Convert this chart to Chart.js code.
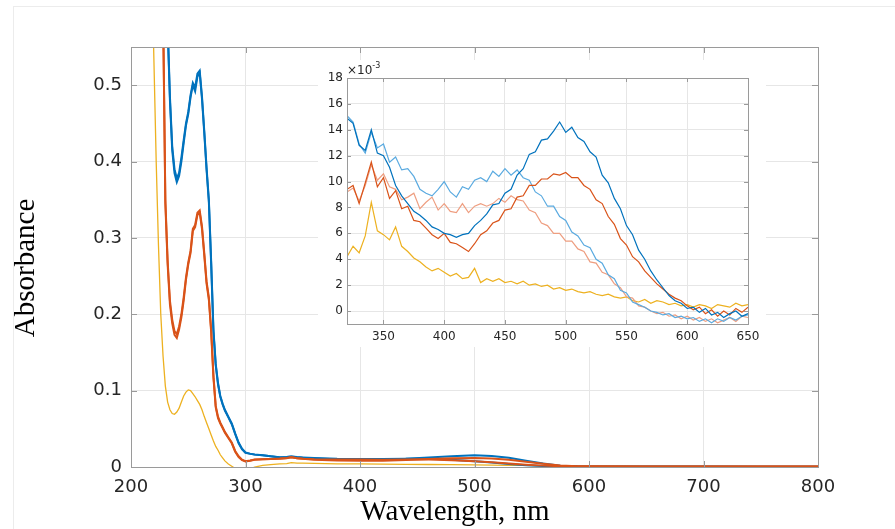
<!DOCTYPE html>
<html>
<head>
<meta charset="utf-8">
<script src="https://cdn.jsdelivr.net/npm/chart.js@4.4.1/dist/chart.umd.min.js"></script>
<style>
  html, body { margin: 0; padding: 0; background: #fff; }
  #wrap { position: relative; width: 895px; height: 529px; overflow: hidden; background: #fff; }
  #frame { position: absolute; left: 13px; top: 6px; right: -2px; bottom: -2px; border-left: 1px solid #ececec; border-top: 1px solid #ececec; }
  #main { position: absolute; left: 0; top: 0; }
  #insetBox { position: absolute; left: 318px; top: 60px; width: 448px; height: 287px; background: #fff; }
</style>
</head>
<body>
<div id="wrap">
  <div id="frame"></div>
  <canvas id="main" width="895" height="529"></canvas>
  <div id="insetBox"><canvas id="inset" width="448" height="287"></canvas></div>
</div>
<script>
// main spectrum, wavelength in nm
const mainWl = [215, 219, 222, 224, 226, 228, 230, 232, 234, 236,
  238, 240, 242, 244, 246, 248, 250, 252, 254, 256,
  258, 260, 262, 264, 266, 268, 270, 272, 274, 276,
  278, 280, 282, 285, 288, 291, 294, 297, 300, 304,
  308, 315, 322, 330, 336, 340, 345, 350, 360, 380,
  400, 420, 440, 460, 480, 500, 515, 530, 545, 560,
  575, 590, 600, 650, 700, 750, 800];

const blueA = [1.5, 1.3, 1.1, 0.98, 0.86, 0.76, 0.67, 0.58, 0.485, 0.42,
  0.39, 0.378, 0.385, 0.405, 0.428, 0.45, 0.465, 0.487, 0.503, 0.497,
  0.515, 0.519, 0.485, 0.44, 0.392, 0.35, 0.27, 0.18, 0.135, 0.11,
  0.093, 0.083, 0.075, 0.066, 0.057, 0.044, 0.032, 0.024, 0.019, 0.0175,
  0.0163, 0.0155, 0.014, 0.0126, 0.0131, 0.0138, 0.0128, 0.012, 0.0112, 0.0102,
  0.0097, 0.0098, 0.0108, 0.0125, 0.0142, 0.0153, 0.0145, 0.012, 0.0082, 0.0045,
  0.0018, 0.0009, 0.0007, 0.0005, 0.0005, 0.0004, 0.0004];
const blueB = [1.5, 1.3, 1.1, 0.98, 0.86, 0.76, 0.67, 0.575, 0.48, 0.415,
  0.385, 0.373, 0.381, 0.4, 0.424, 0.447, 0.462, 0.484, 0.5, 0.492,
  0.511, 0.516, 0.482, 0.437, 0.389, 0.347, 0.266, 0.177, 0.133, 0.108,
  0.092, 0.082, 0.074, 0.065, 0.056, 0.043, 0.031, 0.023, 0.0185, 0.0172,
  0.0162, 0.0154, 0.0142, 0.0127, 0.0132, 0.0138, 0.013, 0.0125, 0.0118, 0.0108,
  0.0105, 0.0104, 0.0108, 0.011, 0.0095, 0.0075, 0.0058, 0.004, 0.0024, 0.0013,
  0.0006, 0.0004, 0.0004, 0.0004, 0.0004, 0.0003, 0.0003];
const orangeA = [1.5, 1.25, 1.0, 0.86, 0.72, 0.6, 0.35, 0.27, 0.218, 0.193,
  0.178, 0.174, 0.184, 0.2, 0.222, 0.248, 0.268, 0.283, 0.312, 0.317,
  0.333, 0.336, 0.315, 0.28, 0.243, 0.222, 0.18, 0.12, 0.08, 0.066,
  0.058, 0.052, 0.046, 0.039, 0.032, 0.021, 0.014, 0.0095, 0.0076, 0.0085,
  0.0098, 0.0102, 0.0106, 0.011, 0.0118, 0.0128, 0.0115, 0.0108, 0.0095, 0.0085,
  0.0082, 0.0082, 0.0092, 0.0105, 0.0115, 0.0118, 0.0112, 0.0095, 0.0068, 0.0042,
  0.002, 0.0011, 0.0009, 0.0008, 0.0007, 0.0007, 0.0006];
const orangeB = [1.5, 1.25, 1.0, 0.86, 0.72, 0.6, 0.345, 0.265, 0.213, 0.188,
  0.173, 0.169, 0.18, 0.196, 0.218, 0.245, 0.265, 0.28, 0.309, 0.314,
  0.33, 0.333, 0.312, 0.277, 0.24, 0.219, 0.177, 0.117, 0.078, 0.064,
  0.057, 0.051, 0.045, 0.038, 0.031, 0.02, 0.013, 0.009, 0.0072, 0.0082,
  0.0095, 0.01, 0.0104, 0.0108, 0.0116, 0.0126, 0.0114, 0.0108, 0.0102, 0.0098,
  0.0098, 0.0096, 0.0099, 0.0099, 0.009, 0.0076, 0.0062, 0.0045, 0.003, 0.0018,
  0.001, 0.0007, 0.0006, 0.0006, 0.0005, 0.0005, 0.0005];
const yellowMain = [1.2, 0.6, 0.4, 0.29, 0.2, 0.145, 0.106, 0.085, 0.075, 0.07,
  0.069, 0.072, 0.077, 0.085, 0.093, 0.098, 0.101, 0.1, 0.096, 0.092,
  0.087, 0.082, 0.075, 0.066, 0.058, 0.05, 0.042, 0.034, 0.027, 0.022,
  0.016, 0.012, 0.008, 0.004, 0.001, -0.002, -0.004, -0.005, -0.005, -0.003,
  0.0, 0.002, 0.003, 0.004, 0.0045, 0.0058, 0.0052, 0.005, 0.0048, 0.0042,
  0.004, 0.0037, 0.0035, 0.0033, 0.003, 0.0028, 0.0025, 0.0022, 0.002, 0.0016,
  0.0013, 0.001, 0.0009, 0.0006, 0.0005, 0.0005, 0.0005];

const mainXTicks = [200, 300, 400, 500, 600, 700, 800];
const mainYTicks = [0, 0.1, 0.2, 0.3, 0.4, 0.5];

// inset, absorbance x 10^-3
const insetWl = [320, 325, 330, 335, 340, 345, 350, 355, 360, 365,
  370, 375, 380, 385, 390, 395, 400, 405, 410, 415,
  420, 425, 430, 435, 440, 445, 450, 455, 460, 465,
  470, 475, 480, 485, 490, 495, 500, 505, 510, 515,
  520, 525, 530, 535, 540, 545, 550, 555, 560, 565,
  570, 575, 580, 585, 590, 595, 600, 605, 610, 615,
  620, 625, 630, 635, 640, 645, 650];

const insBlue = [14.9, 14.5, 12.8, 12.4, 14.0, 12.2, 12.0, 11.1, 9.7, 8.9,
  8.3, 7.7, 7.4, 7.0, 6.5, 6.3, 6.0, 5.9, 5.7, 5.9,
  6.0, 6.6, 7.0, 7.5, 8.2, 8.3, 9.1, 9.4, 10.5, 11.0,
  12.1, 12.3, 13.2, 13.3, 13.9, 14.6, 13.8, 14.2, 13.4, 13.1,
  12.3, 11.9, 10.5, 9.9, 8.7, 7.9, 6.6, 5.9, 4.7, 4.0,
  3.1, 2.4, 1.8, 1.2, 0.8, 0.6, 0.2, 0.3, -0.1, 0.2,
  -0.3, -0.1, -0.5, -0.2, 0.0, -0.4, -0.2];
const insLightBlue = [15.1, 14.6, 12.9, 12.2, 13.8, 12.6, 12.9, 11.5, 11.9, 10.9,
  11.0, 10.4, 9.4, 9.1, 8.9, 9.4, 10.0, 9.2, 8.8, 9.6,
  9.4, 10.1, 10.3, 10.0, 10.8, 10.4, 11.0, 10.5, 10.9, 10.3,
  10.1, 9.2, 8.9, 8.1, 8.1, 7.3, 7.0, 6.1, 5.8, 5.1,
  4.9, 4.0, 3.7, 2.8, 2.5, 1.6, 1.4, 0.7, 0.5, 0.3,
  0.0, -0.1, -0.3, -0.2, -0.5, -0.4, -0.6, -0.5, -0.8, -0.6,
  -0.9, -0.6, -0.8, -0.5, -0.7, -0.4, -0.3];
const insOrange = [9.4, 9.7, 8.3, 9.9, 11.5, 9.6, 10.3, 8.7, 9.3, 7.9,
  8.1, 7.0, 6.9, 6.4, 5.9, 5.6, 6.0, 5.3, 5.2, 4.9,
  4.6, 5.2, 5.9, 6.2, 6.8, 7.0, 7.8, 7.9, 8.8, 8.9,
  9.7, 9.7, 10.2, 10.2, 10.6, 10.5, 10.7, 10.3, 10.3, 9.7,
  9.4, 8.6, 8.3, 7.3, 6.7, 5.6, 5.1, 4.2, 3.8, 3.1,
  2.6, 2.1, 1.7, 1.3, 1.0, 0.8, 0.4, 0.1, 0.3, -0.2,
  0.1, -0.4, 0.0, -0.3, 0.2, -0.1, 0.3];
const insSalmon = [9.2, 9.5, 8.5, 9.7, 11.3, 10.1, 10.6, 9.6, 9.4, 8.6,
  8.8, 9.1, 7.9, 8.4, 8.8, 7.8, 8.3, 7.7, 7.6, 8.3,
  7.6, 8.1, 8.3, 8.1, 8.3, 8.7, 8.4, 8.9, 8.6, 8.5,
  7.8, 7.6, 6.8, 6.6, 6.0, 6.0, 5.4, 5.4, 4.8, 4.6,
  3.8, 3.7, 3.0, 2.8, 2.1, 1.8, 1.1, 1.0, 0.4, 0.3,
  0.0, -0.2, -0.1, -0.4, -0.3, -0.6, -0.4, -0.7, -0.5, -0.8,
  -0.6, -0.9, -0.7, -0.5, -0.8, -0.4, -0.5];
const insYellow = [4.2, 5.0, 4.5, 5.8, 8.4, 6.2, 5.9, 5.5, 6.5, 5.0,
  4.6, 4.1, 3.8, 3.4, 3.1, 3.3, 3.0, 2.7, 2.9, 2.5,
  2.6, 3.3, 2.2, 2.5, 2.3, 2.5, 2.2, 2.3, 2.1, 2.3,
  2.0, 2.1, 1.9, 2.0, 1.7, 1.8, 1.6, 1.7, 1.5, 1.4,
  1.5, 1.3, 1.2, 1.3, 1.1, 1.0, 1.1, 0.8, 0.7, 0.9,
  0.6, 0.8, 0.7, 0.5, 0.6, 0.4, 0.5, 0.3, 0.5, 0.4,
  0.2, 0.5, 0.4, 0.3, 0.6, 0.4, 0.5];

const insetXTicks = [350, 400, 450, 500, 550, 600, 650];
const insetYTicks = [0, 2, 4, 6, 8, 10, 12, 14, 16, 18];

const C_BLUE = '#0072BD', C_LBLUE = '#5AAAE0', C_ORANGE = '#D95319', C_SALMON = '#EE9E80', C_YELLOW = '#EDB120';
const tickColor = '#262626';

function pts(xs, ys) {
  return xs.map((x, i) => ({ x: x, y: ys[i] }));
}

function line(data, color, width) {
  return { data: data, borderColor: color, borderWidth: width, pointRadius: 0, tension: 0, fill: false };
}

function fixedTicks(list) {
  return scale => { scale.ticks = list.map(v => ({ value: v })); };
}

// box with inward ticks, matlab style
const boxAxes = {
  id: 'boxAxes',
  afterDatasetsDraw(chart, args, opts) {
    const { ctx, chartArea: a, scales: { x, y } } = chart;
    ctx.save();
    ctx.strokeStyle = opts.color;
    ctx.lineWidth = 1;
    ctx.beginPath();
    x.ticks.forEach(t => {
      const px = Math.round(x.getPixelForValue(t.value)) + 0.5;
      ctx.moveTo(px, a.bottom); ctx.lineTo(px, a.bottom - opts.len);
      ctx.moveTo(px, a.top); ctx.lineTo(px, a.top + opts.len);
    });
    y.ticks.forEach(t => {
      const py = Math.round(y.getPixelForValue(t.value)) + 0.5;
      ctx.moveTo(a.left, py); ctx.lineTo(a.left + opts.len, py);
      ctx.moveTo(a.right, py); ctx.lineTo(a.right - opts.len, py);
    });
    ctx.stroke();
    ctx.strokeRect(Math.round(a.left) + 0.5, Math.round(a.top) + 0.5, Math.round(a.right - a.left), Math.round(a.bottom - a.top));
    ctx.restore();
  }
};

const mainTitles = {
  id: 'mainTitles',
  afterDraw(chart) {
    const ctx = chart.ctx;
    ctx.save();
    ctx.fillStyle = '#000';
    ctx.font = '29px "Liberation Serif", "Times New Roman", serif';
    ctx.textAlign = 'center';
    ctx.textBaseline = 'alphabetic';
    ctx.fillText('Wavelength, nm', 455, 520);
    ctx.translate(34, 268);
    ctx.rotate(-Math.PI / 2);
    ctx.fillText('Absorbance', 0, 0);
    ctx.restore();
  }
};

const expLabel = {
  id: 'expLabel',
  afterDraw(chart) {
    const ctx = chart.ctx;
    const a = chart.chartArea;
    ctx.save();
    ctx.fillStyle = tickColor;
    ctx.textBaseline = 'alphabetic';
    ctx.textAlign = 'left';
    ctx.font = '12px "DejaVu Sans", sans-serif';
    ctx.fillText('\u00d710', a.left, a.top - 4);
    const w = ctx.measureText('\u00d710').width;
    ctx.font = '8px "DejaVu Sans", sans-serif';
    ctx.fillText('-3', a.left + w, a.top - 10);
    ctx.restore();
  }
};

new Chart(document.getElementById('main'), {
  type: 'line',
  data: {
    datasets: [
      line(pts(mainWl, orangeA), C_ORANGE, 2),
      line(pts(mainWl, orangeB), C_ORANGE, 2),
      line(pts(mainWl, blueA), C_BLUE, 2),
      line(pts(mainWl, blueB), C_BLUE, 2),
      line(pts(mainWl, yellowMain), C_YELLOW, 1.3)
    ]
  },
  options: {
    responsive: false,
    animation: false,
    layout: { padding: { left: 0, right: 77, top: 47, bottom: 0 } },
    plugins: {
      legend: { display: false },
      tooltip: { enabled: false },
      boxAxes: { color: '#9a9a9a', len: 6 }
    },
    scales: {
      x: {
        type: 'linear',
        min: 200, max: 800,
        afterBuildTicks: fixedTicks(mainXTicks),
        afterFit: s => { s.height = 62; },
        ticks: { color: tickColor, padding: 10, maxRotation: 0, font: { family: '"DejaVu Sans", sans-serif', size: 18 } },
        grid: { color: '#e6e6e6', drawTicks: false },
        border: { display: false }
      },
      y: {
        min: 0, max: 0.55,
        afterBuildTicks: fixedTicks(mainYTicks),
        afterFit: s => { s.width = 131; },
        ticks: {
          color: tickColor, padding: 9,
          font: { family: '"DejaVu Sans", sans-serif', size: 18 },
          callback: v => v === 0 ? '0' : v.toFixed(1)
        },
        grid: { color: '#e6e6e6', drawTicks: false },
        border: { display: false }
      }
    }
  },
  plugins: [boxAxes, mainTitles]
});

new Chart(document.getElementById('inset'), {
  type: 'line',
  data: {
    datasets: [
      line(pts(insetWl, insBlue), C_BLUE, 1.2),
      line(pts(insetWl, insOrange), C_ORANGE, 1.2),
      line(pts(insetWl, insLightBlue), C_LBLUE, 1.2),
      line(pts(insetWl, insSalmon), C_SALMON, 1.2),
      line(pts(insetWl, insYellow), C_YELLOW, 1.2)
    ]
  },
  options: {
    responsive: false,
    animation: false,
    layout: { padding: { left: 0, right: 18, top: 18, bottom: 0 } },
    plugins: {
      legend: { display: false },
      tooltip: { enabled: false },
      boxAxes: { color: '#9a9a9a', len: 4 }
    },
    scales: {
      x: {
        type: 'linear',
        min: 320, max: 650,
        afterBuildTicks: fixedTicks(insetXTicks),
        afterFit: s => { s.height = 23; },
        ticks: { color: tickColor, padding: 6, maxRotation: 0, font: { family: '"DejaVu Sans", sans-serif', size: 12 } },
        grid: { color: '#e6e6e6', drawTicks: false },
        border: { display: false }
      },
      y: {
        min: -1, max: 18,
        afterBuildTicks: fixedTicks(insetYTicks),
        afterFit: s => { s.width = 29; },
        ticks: { color: tickColor, padding: 4, font: { family: '"DejaVu Sans", sans-serif', size: 12 } },
        grid: { color: '#e6e6e6', drawTicks: false },
        border: { display: false }
      }
    }
  },
  plugins: [boxAxes, expLabel]
});
</script>
</body>
</html>
